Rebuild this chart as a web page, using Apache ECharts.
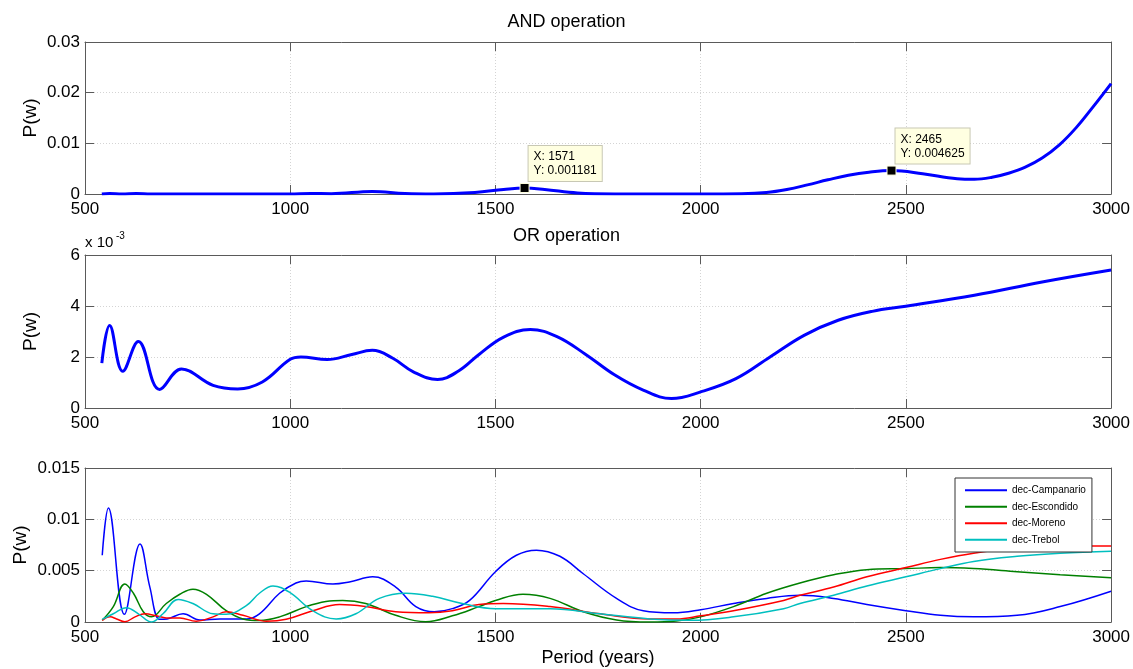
<!DOCTYPE html>
<html>
<head>
<meta charset="utf-8">
<script src="https://cdn.jsdelivr.net/npm/echarts@6/dist/echarts.min.js"></script>
<style>
  html, body { margin: 0; padding: 0; background: #fff; }
  #myChart { width: 1133px; height: 669px; }
</style>
</head>
<body>
<div id="myChart"></div>
<script>
// AND operation
var andYears = [541, 560, 590, 625, 660, 700, 800, 900, 1000, 1050, 1100, 1200, 1280, 1350, 1450, 1520, 1571, 1620, 1700, 1800, 1900, 2000, 2100, 2160, 2210, 2260, 2310, 2360, 2410, 2465, 2541, 2625, 2667, 2710, 2750, 2791, 2832, 2874, 2915, 2957, 3000];
var andVals = [0.00002, 0.0001, 0.00002, 0.0001, 0.00001, 0, 0, 0, 0.00002, 0.0001, 0.00005, 0.0005, 0.0001, 0.00002, 0.0003, 0.0009, 0.001181, 0.0009, 0.0002, 0.00001, 0, 0, 0.00005, 0.0003, 0.0009, 0.0018, 0.0028, 0.0037, 0.0043, 0.004625, 0.0040, 0.0030, 0.0029, 0.0033, 0.0041, 0.0053, 0.0071, 0.0097, 0.0131, 0.0173, 0.0218];

// OR operation (units of 1e-3)
var orYears = [541, 560, 592, 630, 682, 735, 812, 872, 932, 1000, 1026, 1090, 1150, 1200, 1250, 1300, 1359, 1410, 1460, 1520, 1585, 1650, 1720, 1790, 1860, 1929, 2000, 2086, 2169, 2252, 2335, 2418, 2500, 2667, 2832, 3000];
var orVals = [1.76, 3.24, 1.44, 2.61, 0.73, 1.53, 0.89, 0.75, 1.02, 1.91, 2.0, 1.9, 2.1, 2.26, 1.95, 1.42, 1.12, 1.45, 2.1, 2.78, 3.08, 2.8, 2.1, 1.3, 0.7, 0.37, 0.63, 1.15, 2.0, 2.85, 3.44, 3.79, 3.99, 4.42, 4.94, 5.41];

// individual series
var campYears = [542, 557, 596, 634, 658, 682, 700, 739, 780, 828, 893, 925, 974, 1014, 1039, 1104, 1144, 1201, 1257, 1306, 1351, 1395, 1437, 1500, 1551, 1600, 1657, 1714, 1795, 1860, 1933, 2000, 2080, 2161, 2242, 2324, 2405, 2500, 2584, 2665, 2771, 2876, 3000];
var campVals = [0.0065, 0.0111, 0.00075, 0.0076, 0.0034, 0.00026, 0.0003, 0.0008, 0.0002, 0.0003, 0.0003, 0.0008, 0.0028, 0.0038, 0.0040, 0.0037, 0.0039, 0.0044, 0.0034, 0.0015, 0.0010, 0.0013, 0.0021, 0.0049, 0.0065, 0.0070, 0.0064, 0.0047, 0.0023, 0.0011, 0.0009, 0.0012, 0.0018, 0.0023, 0.0026, 0.0023, 0.0017, 0.0011, 0.00065, 0.0005, 0.00065, 0.0015, 0.0030];

var escYears = [542, 569, 597, 618, 642, 662, 698, 731, 763, 796, 844, 885, 925, 974, 1039, 1087, 1128, 1184, 1257, 1330, 1395, 1460, 1500, 1567, 1633, 1714, 1795, 1876, 1941, 2000, 2080, 2161, 2242, 2324, 2405, 2500, 2584, 2665, 2771, 2876, 3000];
var escVals = [0.00016, 0.0015, 0.0037, 0.0028, 0.0010, 0.0005, 0.0018, 0.0027, 0.0032, 0.0027, 0.0011, 0.0003, 0.00015, 0.0005, 0.0015, 0.0020, 0.0021, 0.0018, 0.00065, 0.00003, 0.0006, 0.0015, 0.0021, 0.0027, 0.0023, 0.0010, 0.0002, 0, 0.0001, 0.0005, 0.0015, 0.0028, 0.0038, 0.0046, 0.0051, 0.0052, 0.0053, 0.0052, 0.0049, 0.0046, 0.0043];

var morYears = [542, 561, 577, 597, 622, 646, 674, 698, 731, 771, 812, 844, 885, 942, 990, 1055, 1120, 1184, 1257, 1338, 1395, 1460, 1519, 1633, 1755, 1876, 1941, 2000, 2080, 2202, 2242, 2324, 2405, 2500, 2584, 2665, 2771, 2876, 3000];
var morVals = [0.00016, 0.0005, 0.0003, 0.00003, 0.0005, 0.0008, 0.0006, 0.0004, 0.0004, 0.00007, 0.0005, 0.0010, 0.00065, 0.00007, 0.00026, 0.0011, 0.0017, 0.0015, 0.0010, 0.0009, 0.0011, 0.0017, 0.0018, 0.0015, 0.0008, 0.0003, 0.0003, 0.0006, 0.0011, 0.0021, 0.0026, 0.0034, 0.0044, 0.0053, 0.0061, 0.0067, 0.0072, 0.0074, 0.0074];

var treYears = [542, 569, 601, 630, 662, 690, 727, 763, 812, 844, 893, 925, 958, 998, 1055, 1112, 1160, 1217, 1282, 1347, 1419, 1500, 1633, 1755, 1876, 1974, 2080, 2202, 2242, 2324, 2405, 2500, 2584, 2665, 2771, 2876, 3000];
var treVals = [0.00026, 0.0008, 0.0014, 0.0008, 0, 0.0008, 0.0022, 0.0018, 0.0008, 0.00075, 0.0016, 0.0028, 0.0035, 0.0029, 0.0011, 0.0003, 0.0008, 0.0023, 0.0028, 0.0025, 0.0018, 0.0013, 0.0013, 0.0008, 0.0003, 0.00016, 0.0005, 0.0013, 0.0018, 0.0026, 0.0035, 0.0044, 0.0052, 0.0059, 0.0064, 0.0067, 0.0069];

function pairs(xs, ys) {
  return xs.map(function (x, i) { return [x, ys[i]]; });
}

var font = 'Liberation Sans, Arial, sans-serif';
var axisGrey = '#5a5a5a';
var grids = [
  {left: 85, right: 21, top: 42, height: 152},
  {left: 85, right: 21, top: 255, height: 153},
  {left: 85, right: 21, top: 468, height: 154}
];
var yRanges = [
  {max: 0.03, interval: 0.01, gap: 45},
  {max: 6, interval: 2, gap: 45},
  {max: 0.015, interval: 0.005, gap: 55}
];

var xAxes = [], yAxes = [];
grids.forEach(function (g, i) {
  // main bottom axis
  xAxes.push({
    type: 'value', gridIndex: i, min: 500, max: 3000, interval: 500,
    axisLine: {show: true, onZero: false, lineStyle: {color: axisGrey}},
    axisTick: {inside: true, length: 9, lineStyle: {color: axisGrey}},
    axisLabel: {color: '#000', fontSize: 17, fontFamily: font, margin: 7, formatter: function (v) { return String(v); }},
    splitLine: {show: true, lineStyle: {color: '#d4d4d4', type: [1, 2]}},
    name: i === 2 ? 'Period (years)' : '',
    nameLocation: 'middle', nameGap: 27,
    nameTextStyle: {color: '#000', fontSize: 18, fontFamily: font}
  });
  // top mirror axis (box)
  xAxes.push({
    type: 'value', gridIndex: i, position: 'top', min: 500, max: 3000, interval: 500,
    axisLine: {show: true, onZero: false, lineStyle: {color: axisGrey}},
    axisTick: {inside: true, length: 9, lineStyle: {color: axisGrey}},
    axisLabel: {show: false}, splitLine: {show: false}
  });
  yAxes.push({
    type: 'value', gridIndex: i, min: 0, max: yRanges[i].max, interval: yRanges[i].interval,
    axisLine: {show: true, lineStyle: {color: axisGrey}},
    axisTick: {show: true, inside: true, length: 9, lineStyle: {color: axisGrey}},
    axisLabel: {color: '#000', fontSize: 17, fontFamily: font, margin: 5, formatter: function (v) { return String(v); }},
    splitLine: {show: true, lineStyle: {color: '#d4d4d4', type: [1, 2]}},
    name: 'P(w)', nameLocation: 'middle', nameGap: yRanges[i].gap, nameRotate: 90, nameMoveOverlap: false,
    nameTextStyle: {color: '#000', fontSize: 19, fontFamily: font}
  });
  yAxes.push({
    type: 'value', gridIndex: i, position: 'right', min: 0, max: yRanges[i].max, interval: yRanges[i].interval,
    axisLine: {show: true, lineStyle: {color: axisGrey}},
    axisTick: {show: true, inside: true, length: 9, lineStyle: {color: axisGrey}},
    axisLabel: {show: false}, splitLine: {show: false}
  });
});

var tipLabel = {
  show: true, position: [9, -37], align: 'left', verticalAlign: 'top',
  color: '#000', fontSize: 12, fontFamily: font, lineHeight: 14,
  backgroundColor: '#ffffe1', borderColor: '#c8c8b4', borderWidth: 1, padding: [4, 5, 3, 5]
};

var option = {
  animation: false,
  backgroundColor: '#fff',
  title: [
    {text: 'AND operation', left: 'center', top: 8, textStyle: {fontSize: 18, fontWeight: 'normal', color: '#000', fontFamily: font}},
    {text: 'OR operation', left: 'center', top: 222, textStyle: {fontSize: 18, fontWeight: 'normal', color: '#000', fontFamily: font}}
  ],
  graphic: [
    {type: 'text', left: 85, top: 235, style: {text: 'x 10', fontSize: 15, fontFamily: font, fill: '#000'}},
    {type: 'text', left: 116, top: 231, style: {text: '-3', fontSize: 10, fontFamily: font, fill: '#000'}}
  ],
  legend: {
    left: 955, top: 478, orient: 'vertical',
    data: ['dec-Campanario', 'dec-Escondido', 'dec-Moreno', 'dec-Trebol'],
    icon: 'rect', itemWidth: 42, itemHeight: 2, itemGap: 4,
    backgroundColor: '#fff', borderColor: '#333', borderWidth: 1, borderRadius: 0,
    padding: [6, 6, 6, 10],
    textStyle: {fontSize: 10, fontFamily: font, color: '#000', lineHeight: 12.5}
  },
  grid: grids,
  xAxis: xAxes,
  yAxis: yAxes,
  series: [
    {
      type: 'line', xAxisIndex: 0, yAxisIndex: 0, data: pairs(andYears, andVals),
      smooth: 0.4, showSymbol: false, symbol: 'none',
      lineStyle: {color: '#0000ff', width: 3}, itemStyle: {color: '#0000ff'},
      markPoint: {
        symbol: 'rect', symbolSize: 9,
        itemStyle: {color: '#000', borderColor: '#ffffe1', borderWidth: 1},
        label: tipLabel,
        data: [
          {coord: [1571, 0.001181], label: {formatter: 'X: 1571\nY: 0.001181'}},
          {coord: [2465, 0.004625], label: {formatter: 'X: 2465\nY: 0.004625'}}
        ]
      }
    },
    {
      type: 'line', xAxisIndex: 2, yAxisIndex: 2, data: pairs(orYears, orVals),
      smooth: 0.4, showSymbol: false, symbol: 'none',
      lineStyle: {color: '#0000ff', width: 3}
    },
    {
      name: 'dec-Campanario', type: 'line', xAxisIndex: 4, yAxisIndex: 4, data: pairs(campYears, campVals),
      smooth: 0.4, showSymbol: false, symbol: 'none',
      lineStyle: {color: '#0000ff', width: 1.5}, itemStyle: {color: '#0000ff'}
    },
    {
      name: 'dec-Escondido', type: 'line', xAxisIndex: 4, yAxisIndex: 4, data: pairs(escYears, escVals),
      smooth: 0.4, showSymbol: false, symbol: 'none',
      lineStyle: {color: '#008000', width: 1.5}, itemStyle: {color: '#008000'}
    },
    {
      name: 'dec-Moreno', type: 'line', xAxisIndex: 4, yAxisIndex: 4, data: pairs(morYears, morVals),
      smooth: 0.4, showSymbol: false, symbol: 'none',
      lineStyle: {color: '#ff0000', width: 1.5}, itemStyle: {color: '#ff0000'}
    },
    {
      name: 'dec-Trebol', type: 'line', xAxisIndex: 4, yAxisIndex: 4, data: pairs(treYears, treVals),
      smooth: 0.4, showSymbol: false, symbol: 'none',
      lineStyle: {color: '#00bfbf', width: 1.5}, itemStyle: {color: '#00bfbf'}
    }
  ]
};

var myChart = echarts.init(document.getElementById('myChart'));
myChart.setOption(option);
</script>
</body>
</html>
